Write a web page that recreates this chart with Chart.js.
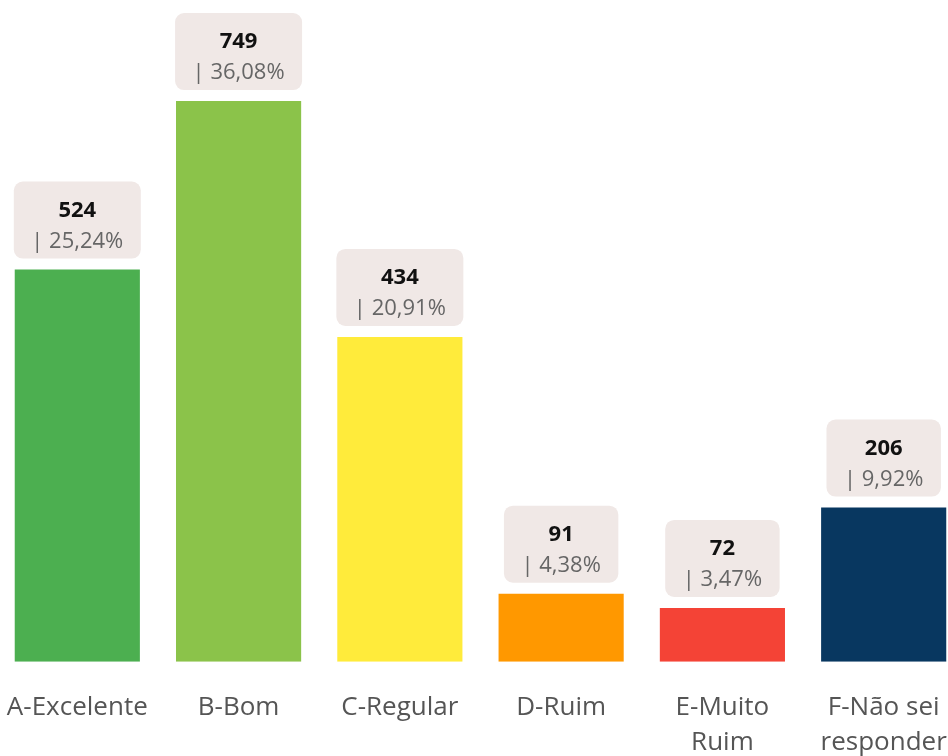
<!DOCTYPE html>
<html>
<head>
<meta charset="utf-8">
<script src="https://cdn.jsdelivr.net/npm/chart.js@4"></script>
<style>
  html, body { margin: 0; padding: 0; background: #fff; overflow: hidden; }
  #wrap { position: absolute; left: -13px; top: 0; width: 979px; height: 756px; }
</style>
</head>
<body>
<div id="wrap"><canvas id="chart" width="979" height="756"></canvas></div>
<script>
// categories and values
const categories = ['A-Excelente', 'B-Bom', 'C-Regular', 'D-Ruim', ['E-Muito', 'Ruim'], ['F-Não sei', 'responder']];
const counts = [524, 749, 434, 91, 72, 206];
const percents = ['25,24%', '36,08%', '20,91%', '4,38%', '3,47%', '9,92%'];
const barColors = ['#4caf50', '#8bc34a', '#ffeb3b', '#ff9800', '#f44336', '#083760'];

const FONT = '"Open Sans", "Noto Sans", sans-serif';

// draws the rounded value boxes above each bar
const valueBoxes = {
    id: 'valueBoxes',
    afterDatasetsDraw(chart) {
        const ctx = chart.ctx;
        const meta = chart.getDatasetMeta(0);
        ctx.save();
        meta.data.forEach(function(bar, i) {
            const numText = String(counts[i]);
            const pctText = '| ' + percents[i];
            ctx.font = '22px ' + FONT;
            const w = ctx.measureText(pctText).width + 35;
            const h = 77;
            const x = bar.x - w / 2;
            const y = bar.y - 11 - h;
            ctx.fillStyle = '#f0e8e6';
            ctx.beginPath();
            ctx.roundRect(x, y, w, h, 9);
            ctx.fill();

            ctx.textAlign = 'center';
            ctx.textBaseline = 'middle';
            ctx.fillStyle = '#111';
            ctx.font = 'bold 22px ' + FONT;
            ctx.fillText(numText, bar.x, y + 29);
            ctx.fillStyle = '#666';
            ctx.font = '22px ' + FONT;
            ctx.fillText(pctText, bar.x, y + 60);
        });
        ctx.restore();
    }
};

new Chart(document.getElementById('chart'), {
    type: 'bar',
    data: {
        labels: categories,
        datasets: [{
            data: counts,
            backgroundColor: barColors,
            categoryPercentage: 1,
            barPercentage: 0.776
        }]
    },
    options: {
        responsive: false,
        animation: false,
        layout: { padding: { top: 0, left: 0, right: 0, bottom: -24 } },
        plugins: {
            legend: { display: false },
            tooltip: { enabled: false }
        },
        scales: {
            x: {
                grid: { display: false },
                border: { display: false },
                ticks: {
                    color: '#555',
                    font: { family: FONT, size: 26, lineHeight: 1.35 },
                    padding: 20,
                    maxRotation: 0,
                    autoSkip: false
                }
            },
            y: {
                display: false,
                min: 0,
                max: 884
            }
        }
    },
    plugins: [valueBoxes]
});
</script>
</body>
</html>
